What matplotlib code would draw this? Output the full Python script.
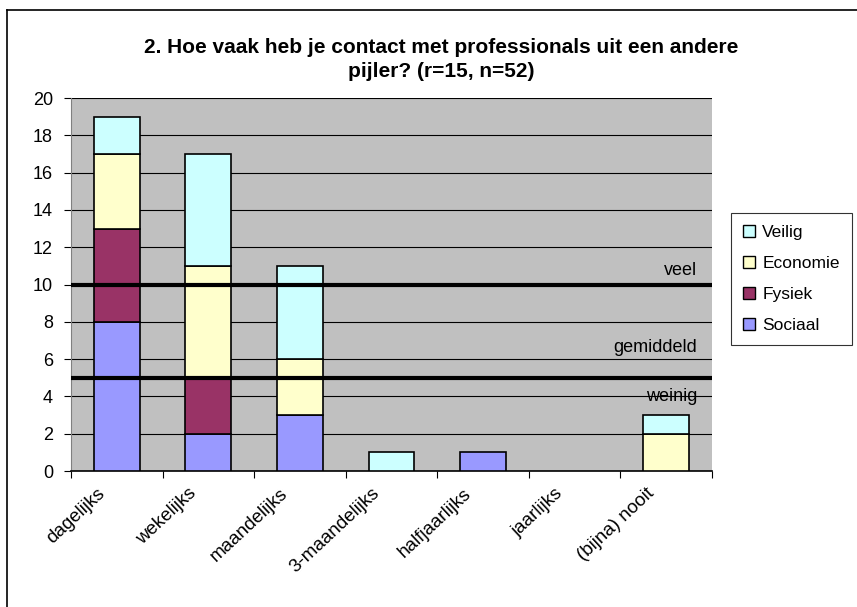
import numpy as np
import matplotlib
matplotlib.use('Agg')
import matplotlib.pyplot as plt
import matplotlib.patches as mpatches

plt.rcParams['font.family'] = ['Liberation Sans', 'DejaVu Sans']

categories = ['dagelijks', 'wekelijks', 'maandelijks', '3-maandelijks',
              'halfjaarlijks', 'jaarlijks', '(bijna) nooit']
sociaal = [8, 2, 3, 0, 1, 0, 0]
fysiek = [5, 3, 0, 0, 0, 0, 0]
economie = [4, 6, 3, 0, 0, 0, 2]
veilig = [2, 6, 5, 1, 0, 0, 1]

series = [('Sociaal', sociaal, '#9999FF'),
          ('Fysiek', fysiek, '#993366'),
          ('Economie', economie, '#FFFFCC'),
          ('Veilig', veilig, '#CCFFFF')]

fig = plt.figure(figsize=(8.57, 6.07), dpi=100)
ax = fig.add_axes([0.0828, 0.224, 0.748, 0.6145])
ax.set_facecolor('#C0C0C0')

x = np.arange(len(categories))
bottom = np.zeros(len(categories))
handles = []
for name, vals, col in series:
    vals = np.array(vals, dtype=float)
    mask = vals > 0
    ax.bar(x[mask], vals[mask], 0.5, bottom=bottom[mask], color=col, edgecolor='black',
           linewidth=1.2, zorder=3)
    bottom += vals
    handles.append(mpatches.Patch(facecolor=col, edgecolor='black', label=name))

ax.set_xlim(-0.5, len(categories) - 0.5)
ax.set_ylim(0, 20)
ax.set_yticks(range(0, 21, 2))
ax.yaxis.grid(True, color='black', linewidth=0.8, zorder=1)
ax.set_axisbelow(True)

# reference levels
ax.axhline(10, color='black', linewidth=3, zorder=4)
ax.axhline(5, color='black', linewidth=3, zorder=4)
ax.text(6.34, 10.75, 'veel', ha='right', va='center', fontsize=13, zorder=5)
ax.text(6.34, 6.65, 'gemiddeld', ha='right', va='center', fontsize=13, zorder=5)
ax.text(6.34, 3.97, 'weinig', ha='right', va='center', fontsize=13, zorder=5)

# boundary ticks (major) and category labels (minor, nudged left like Excel)
ax.set_xticks(np.arange(len(categories) + 1) - 0.5, minor=False)
ax.set_xticklabels([])
ax.set_xticks(x - 0.22, minor=True)
ax.set_xticklabels(categories, minor=True, rotation=43, ha='right',
                   rotation_mode='anchor', fontsize=13.5)
ax.tick_params(axis='x', which='minor', length=0, pad=10)
ax.tick_params(axis='x', which='major', length=5, direction='out', color='black')
ax.tick_params(axis='y', length=5, direction='out', labelsize=13, pad=8)

for side in ['top', 'right']:
    ax.spines[side].set_visible(False)
ax.spines['left'].set_color('#808080')
ax.spines['bottom'].set_linewidth(1.2)

fig.text(0.515, 0.902, '2. Hoe vaak heb je contact met professionals uit een andere\npijler? (r=15, n=52)',
         ha='center', va='center', fontsize=15, fontweight='bold', linespacing=1.35)

leg = fig.legend(handles=handles[::-1], loc='upper left', bbox_to_anchor=(0.853, 0.649),
                 borderaxespad=0, frameon=True, fancybox=False, edgecolor='black',
                 fontsize=12.5, handlelength=0.7, handleheight=0.7, handletextpad=0.4,
                 labelspacing=0.9, borderpad=0.7)
leg.get_frame().set_linewidth(0.8)

# chart border (left and top edges visible)
fig.add_artist(plt.Line2D([7 / 857, 7 / 857], [0, 1 - 10 / 607], color='black', linewidth=1.2))
fig.add_artist(plt.Line2D([7 / 857, 1], [1 - 10 / 607, 1 - 10 / 607], color='black', linewidth=1.2))

fig.savefig('out.png', dpi=100, facecolor='white')
